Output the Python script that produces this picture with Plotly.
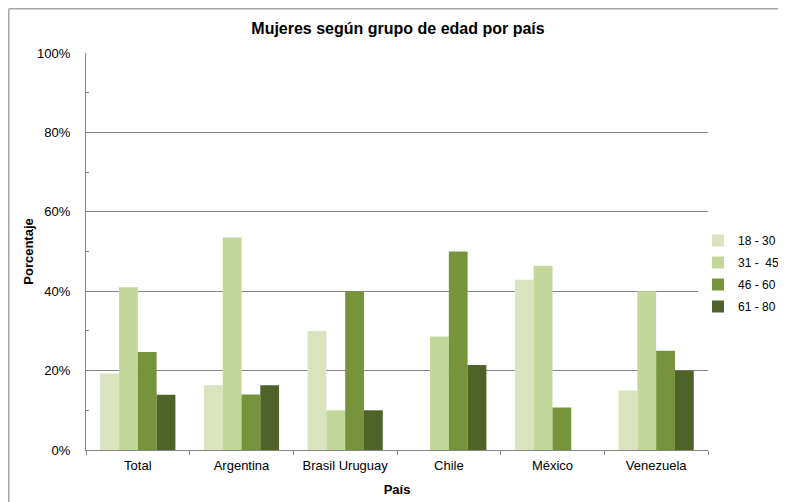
import plotly.graph_objects as go

paises = ["Total", "Argentina", "Brasil Uruguay", "Chile", "México", "Venezuela"]
grupos = ["18 - 30", "31 -\u00a0 45", "46 - 60", "61 - 80"]
v_18_30 = [0.193, 0.163, 0.300, 0.0, 0.429, 0.150]
v_31_45 = [0.410, 0.535, 0.100, 0.286, 0.464, 0.400]
v_46_60 = [0.247, 0.140, 0.400, 0.500, 0.107, 0.250]
v_61_80 = [0.139, 0.163, 0.100, 0.214, 0.0, 0.200]
series = [v_18_30, v_31_45, v_46_60, v_61_80]
colores = ["#d9e4bf", "#c4d79b", "#77933c", "#4f6228"]

FONT = "Liberation Sans Narrow, Arial Narrow, Liberation Sans, Arial, sans-serif"

# page body has an 8px margin: figure spans page x 8..786, y 8..502
W, H = 778, 494
L, R, T, B = 78, 78, 45, 52
PW, PH = W - L - R, H - T - B

fig = go.Figure()
for name, vals, c in zip(grupos, series, colores):
    fig.add_trace(go.Bar(x=paises, y=vals, name=name, marker_color=c,
                         marker_line_width=0, legendgroup=name))

fig.update_layout(
    width=W, height=H,
    margin=dict(l=L, r=R, t=T, b=B, autoexpand=False),
    paper_bgcolor="white", plot_bgcolor="white",
    barmode="group", bargap=0.275, bargroupgap=0,
    font=dict(family=FONT, size=12, color="black"),
    title=dict(text="<b>Mujeres según grupo de edad por país</b>",
               x=(398 - 8) / W, xanchor="center", y=1 - 20 / H, yanchor="middle",
               font=dict(family=FONT, size=16, color="black")),
    legend=dict(x=(W - 1 - L) / PW, xanchor="right", y=(442 - 265.5) / PH, yanchor="middle",
                font=dict(family="Liberation Sans, Arial, sans-serif", size=12),
                itemwidth=30, tracegroupgap=3, traceorder="grouped"),
    showlegend=True,
)
fig.update_xaxes(
    title=dict(text="<b>País</b>", standoff=13, font=dict(size=13)),
    showline=True, linecolor="#868686", linewidth=1.2,
    ticks="outside", tickson="boundaries", ticklen=4, tickcolor="#868686",
    ticklabelstandoff=3,
    showgrid=False, tickfont=dict(size=13),
)
fig.update_yaxes(
    title=dict(text="<b>Porcentaje</b>", standoff=0, font=dict(size=13)),
    range=[0, 1], dtick=0.2, tickformat=".0%",
    showline=True, linecolor="#868686", linewidth=1.2,
    showgrid=True, gridcolor="#868686", gridwidth=1,
    ticks="", ticklabelstandoff=12, tickfont=dict(size=13),
    minor=dict(dtick=0.1, ticks="inside", ticklen=3, tickcolor="#868686", showgrid=False),
    zeroline=False,
)
# outer chart border (top and left visible)
bx = (0.75 - L) / PW
by = (PH + T - 0.75) / PH
fig.add_shape(type="line", xref="paper", yref="paper", x0=bx, y0=by, x1=1.3, y1=by,
              line=dict(color="#a6a6a6", width=1.5))
fig.add_shape(type="line", xref="paper", yref="paper", x0=bx, y0=by, x1=bx, y1=-0.3,
              line=dict(color="#a6a6a6", width=1.5))

fig.write_html("out.html")
